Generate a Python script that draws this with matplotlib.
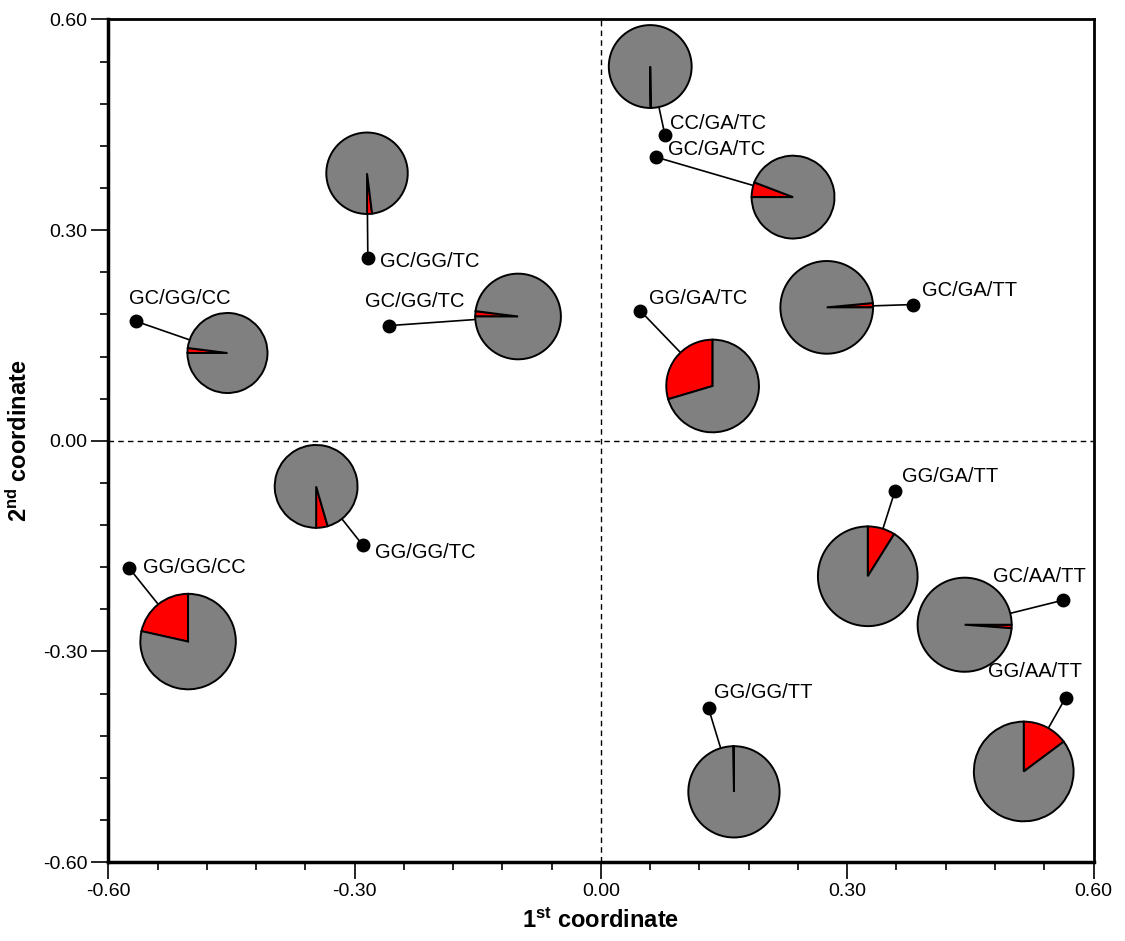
"""
Principal coordinates plot with haplotype pie charts.
"""

import matplotlib
matplotlib.use("Agg")
import matplotlib.pyplot as plt
from matplotlib.ticker import MultipleLocator, FormatStrFormatter

plt.rcParams["font.family"] = ["Liberation Sans", "DejaVu Sans"]
plt.rcParams["mathtext.fontset"] = "custom"
plt.rcParams["mathtext.rm"] = "Liberation Sans"
plt.rcParams["mathtext.bf"] = "Liberation Sans:bold"

# genotype labels
genotypes = [
    "CC/GA/TC", "GC/GA/TC", "GC/GG/TC", "GC/GG/TC", "GC/GG/CC",
    "GG/GA/TC", "GC/GA/TT", "GG/GG/TC", "GG/GG/CC", "GG/GA/TT",
    "GC/AA/TT", "GG/AA/TT", "GG/GG/TT",
]

# coordinates of the genotype points
point_x = [0.078, 0.067, -0.284, -0.258, -0.566, 0.048, 0.380,
           -0.290, -0.575, 0.358, 0.563, 0.566, 0.131]
point_y = [0.435, 0.404, 0.260, 0.164, 0.170, 0.185, 0.194,
           -0.149, -0.181, -0.072, -0.227, -0.366, -0.381]

# centres of the pie charts
pie_x = [0.060, 0.234, -0.285, -0.101, -0.455, 0.136, 0.275,
         -0.347, -0.503, 0.325, 0.443, 0.515, 0.162]
pie_y = [0.533, 0.347, 0.381, 0.177, 0.125, 0.078, 0.190,
         -0.065, -0.286, -0.193, -0.262, -0.471, -0.500]

# pie radius (2nd coordinate units) and red fraction
pie_radius = [0.059, 0.059, 0.058, 0.061, 0.057, 0.066, 0.066,
              0.059, 0.068, 0.071, 0.067, 0.071, 0.065]
red_share = [0.003, 0.058, 0.02, 0.02, 0.02, 0.296, 0.015,
             0.045, 0.215, 0.089, 0.012, 0.148, 0.003]

# orientation of the red slice
start_angle = [270, 180, 270, 180, 180, 90, 0, 270, 90, 90, 0, 90, 90]
counter_clock = [True, False, True, False, False, True, True,
                 True, True, False, False, False, True]

# label offsets from the point (pixels)
label_dx = [5, 12, 12, -24, -7, 9, 9, 12, 14, 7, -70, -78, 5]
label_dy = [12, 8, -3, 24, 23, 12, 14, -7, 0, 15, 24, 26, 16]

fig = plt.figure(figsize=(11.25, 9.41), dpi=100)
ax = fig.add_axes([0.0964, 0.0839, 0.8756, 0.8954])

ax.set_xlim(-0.6, 0.6)
ax.set_ylim(-0.6, 0.6)

ax.axhline(0, color="black", lw=1, ls=(0, (4, 3)), zorder=1)
ax.axvline(0, color="black", lw=1, ls=(0, (4, 3)), zorder=1)

for i in range(len(genotypes)):
    ax.plot([point_x[i], pie_x[i]], [point_y[i], pie_y[i]],
            color="black", lw=1.2, zorder=2)
    ax.plot(point_x[i], point_y[i], "o", color="black", ms=9, zorder=3)
    ax.annotate(genotypes[i], (point_x[i], point_y[i]),
                xytext=(label_dx[i], label_dy[i]),
                textcoords="offset pixels",
                ha="left", va="center", fontsize=14.5)

    r = pie_radius[i]
    pax = ax.inset_axes([pie_x[i] - r, pie_y[i] - r, 2 * r, 2 * r],
                        transform=ax.transData)
    wedges, _ = pax.pie(
        [red_share[i], 1 - red_share[i]],
        colors=["#ff0000", "#808080"],
        startangle=start_angle[i],
        counterclock=counter_clock[i],
        wedgeprops={"edgecolor": "black", "linewidth": 1.4},
    )
    for w in wedges:
        w.set_clip_on(False)
    pax.set_xlim(-1, 1)
    pax.set_ylim(-1, 1)
    pax.set_aspect("equal")
    pax.axis("off")

ax.xaxis.set_major_locator(MultipleLocator(0.3))
ax.xaxis.set_minor_locator(MultipleLocator(0.06))
ax.yaxis.set_major_locator(MultipleLocator(0.3))
ax.yaxis.set_minor_locator(MultipleLocator(0.06))
ax.xaxis.set_major_formatter(FormatStrFormatter("%.2f"))
ax.yaxis.set_major_formatter(FormatStrFormatter("%.2f"))

ax.tick_params(which="major", length=12, width=1.2, labelsize=14, pad=3)
ax.tick_params(which="minor", length=6, width=1.2)

for side in ["left", "bottom"]:
    ax.spines[side].set_linewidth(2.5)
for side in ["top", "right"]:
    ax.spines[side].set_linewidth(2)

ax.set_xlabel(r"$\mathbf{1^{st}}$ coordinate", fontsize=17,
              fontweight="bold", labelpad=6)
ax.set_ylabel(r"$\mathbf{2^{nd}}$ coordinate", fontsize=17,
              fontweight="bold", labelpad=8)

plt.savefig("out.png", dpi=100)
plt.close()
